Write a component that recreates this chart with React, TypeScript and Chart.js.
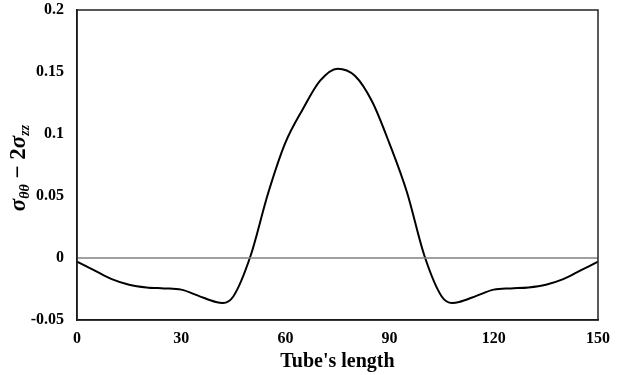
import React, { useEffect, useRef } from "react";
import { Chart, registerables } from "chart.js";

Chart.register(...registerables);

const positions = [0, 5, 10, 15, 20, 25, 30, 35, 40, 42, 45, 50, 55, 60, 65, 70, 75, 80, 85, 90, 95, 100, 105, 108, 110, 115, 120, 125, 130, 135, 140, 145, 150];
const stressDiff = [-0.003, -0.010, -0.017, -0.0215, -0.0237, -0.0245, -0.0255, -0.0305, -0.0355, -0.0362, -0.031, 0.002, 0.052, 0.093, 0.120, 0.143, 0.1527, 0.147, 0.126, 0.092, 0.053, 0.002, -0.031, -0.0362, -0.0355, -0.0305, -0.0255, -0.0245, -0.0237, -0.0215, -0.017, -0.010, -0.003];
const zeroX = [0, 150];
const zeroY = [0, 0];
const xTicks = [0, 30, 60, 90, 120, 150];
const yTicks = [-0.05, 0, 0.05, 0.1, 0.15, 0.2];
const xTitle = "Tube's length";

const FONT = "'Liberation Serif', 'Times New Roman', serif";

const titlesPlugin = {
  id: "titles",
  afterDraw(chart: any) {
    const { ctx, chartArea } = chart;
    ctx.save();
    // frame
    ctx.strokeStyle = "#222";
    ctx.lineWidth = 1.5;
    ctx.strokeRect(chartArea.left, chartArea.top, chartArea.right - chartArea.left, chartArea.bottom - chartArea.top);
    // x title
    ctx.fillStyle = "#000";
    ctx.font = `bold 20px ${FONT}`;
    ctx.textAlign = "center";
    ctx.textBaseline = "middle";
    ctx.fillText(xTitle, (chartArea.left + chartArea.right) / 2, 362);
    // y title with subscripts
    const pieces = [
      { t: "σ", f: `italic bold 23px ${FONT}`, dy: 0 },
      { t: "θθ", f: `italic bold 14px ${FONT}`, dy: 4 },
      { t: " − 2", f: `bold 23px ${FONT}`, dy: 0 },
      { t: "σ", f: `italic bold 23px ${FONT}`, dy: 0 },
      { t: "zz", f: `italic bold 14px ${FONT}`, dy: 4 },
    ];
    let total = 0;
    for (const p of pieces) {
      ctx.font = p.f;
      total += ctx.measureText(p.t).width;
    }
    ctx.translate(19, 168);
    ctx.rotate(-Math.PI / 2);
    ctx.textAlign = "left";
    ctx.textBaseline = "alphabetic";
    let x = -total / 2;
    for (const p of pieces) {
      ctx.font = p.f;
      ctx.fillText(p.t, x, 6 + p.dy);
      x += ctx.measureText(p.t).width;
    }
    ctx.restore();
  },
};

export default function App() {
  const ref = useRef<HTMLCanvasElement>(null);
  useEffect(() => {
    if (!ref.current) return;
    const chart = new Chart(ref.current, {
      type: "line",
      data: {
        datasets: [
          {
            data: zeroX.map((x, i) => ({ x, y: zeroY[i] })),
            borderColor: "#808080",
            borderWidth: 1.5,
            pointRadius: 0,
            tension: 0,
          },
          {
            data: positions.map((x, i) => ({ x, y: stressDiff[i] })),
            borderColor: "#000",
            borderWidth: 2,
            pointRadius: 0,
            cubicInterpolationMode: "monotone",
          },
        ],
      },
      options: {
        animation: false,
        responsive: true,
        maintainAspectRatio: false,
        layout: { padding: { left: 0, right: 24, top: 10, bottom: 0 } },
        plugins: { legend: { display: false }, tooltip: { enabled: false } },
        scales: {
          x: {
            type: "linear",
            min: 0,
            max: 150,
            afterBuildTicks: (s: any) => {
              s.ticks = xTicks.map((v) => ({ value: v }));
            },
            afterFit: (s: any) => {
              s.height = 55;
              s.paddingLeft = 0;
              s.paddingRight = 0;
            },
            grid: { display: false, drawTicks: false },
            border: { display: true, color: "#000", width: 1.5 },
            ticks: {
              color: "#000",
              font: { family: FONT, size: 16, weight: "bold" },
              padding: 9,
              maxRotation: 0,
            },
          },
          y: {
            type: "linear",
            min: -0.05,
            max: 0.2,
            afterBuildTicks: (s: any) => {
              s.ticks = yTicks.map((v) => ({ value: v }));
            },
            afterFit: (s: any) => {
              s.width = 77;
              s.paddingTop = 0;
              s.paddingBottom = 0;
            },
            grid: { display: false, drawTicks: false },
            border: { display: true, color: "#000", width: 1.5 },
            ticks: {
              color: "#000",
              font: { family: FONT, size: 16, weight: "bold" },
              padding: 13,
              callback: (v: any) => String(parseFloat(Number(v).toFixed(2))),
            },
          },
        },
      },
      plugins: [titlesPlugin],
    } as any);
    return () => chart.destroy();
  }, []);
  return (
    <div style={{ position: "absolute", left: 0, top: 0, width: 622, height: 375, background: "#fff" }}>
      <canvas ref={ref} />
    </div>
  );
}
